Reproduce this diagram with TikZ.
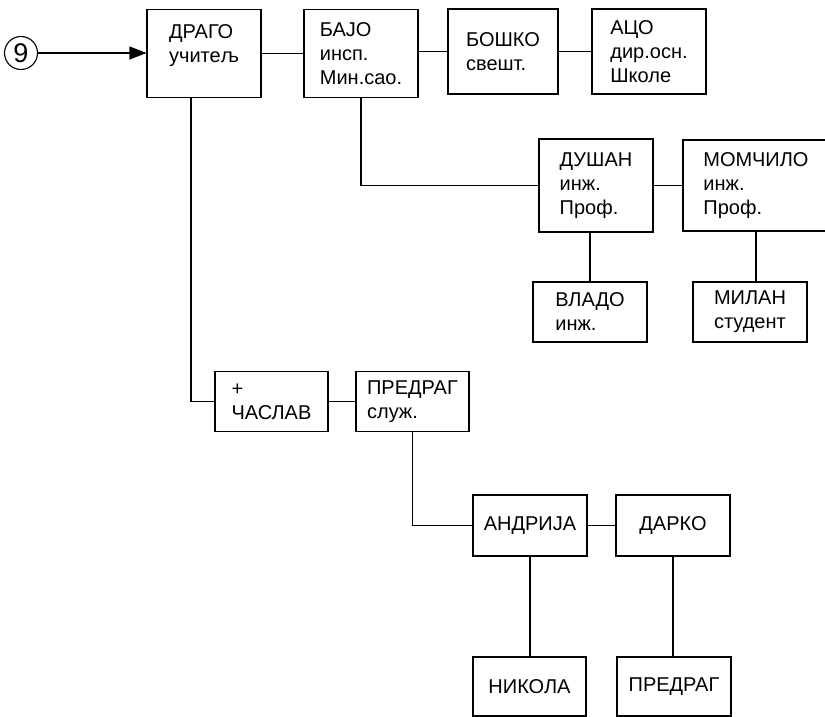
\documentclass[tikz,border=0pt]{standalone}
\usepackage{fontspec}
\setmainfont{Liberation Sans}
\usetikzlibrary{arrows.meta}
\begin{document}
\begin{tikzpicture}[x=1pt, y=-1pt, line width=1.1pt, >={Triangle[length=17pt,width=13pt]},
    box/.style={draw, rectangle, align=left, inner sep=0pt, font=\fontsize{20}{24}\selectfont}]
    \useasboundingbox (0,0) rectangle (825,717);
    \node[draw, circle, minimum size=33pt, inner sep=0pt, font=\fontsize{27}{27}\selectfont] (nine) at (21,53) {9};
    \node[box, minimum width=114pt, minimum height=88pt] (drago) at (204,53.5) {ДРАГО\\учитељ\\[-4pt]\mbox{}};
    \node[box, minimum width=114pt, minimum height=88pt] (bajo) at (361,53.5) {БАЈО\\инсп.\\Мин.сао.};
    \node[box, minimum width=110pt, minimum height=85pt] (boshko) at (503,51.5) {БОШКО\\свешт.};
    \node[box, minimum width=114pt, minimum height=85pt] (aco) at (649,51.5) {АЦО\\дир.осн.\\Школе};
    \node[box, minimum width=114pt, minimum height=93pt] (dusan) at (596,185.5) {ДУШАН\\инж.\\Проф.};
    \node[box, minimum width=146pt, minimum height=91pt] (momcilo) at (756,185.5) {МОМЧИЛО\\инж.\\Проф.};
    \node[box, minimum width=114pt, minimum height=60pt] (vlado) at (590,312) {ВЛАДО\\инж.};
    \node[box, minimum width=114pt, minimum height=60pt] (milan) at (750,312) {МИЛАН\\студент};
    \node[box, minimum width=113pt, minimum height=60pt] (caslav) at (271.5,401.5) {+\\ЧАСЛАВ};
    \node[box, minimum width=113pt, minimum height=60pt] (predrag) at (412.5,401.5) {ПРЕДРАГ\\служ.};
    \node[box, minimum width=114pt, minimum height=61pt] (andrija) at (530,525.5) {АНДРИЈА};
    \node[box, minimum width=114pt, minimum height=61pt] (darko) at (673,525.5) {ДАРКО};
    \node[box, minimum width=113pt, minimum height=59pt] (nikola) at (529.5,686.5) {НИКОЛА};
    \node[box, minimum width=114pt, minimum height=59pt] (predragb) at (674,686.5) {ПРЕДРАГ};

    \draw[->] (nine) -- (nine -| drago.west);
    \draw (drago) -- (bajo);
    \draw (bajo.east |- boshko.west) -- (boshko.west);
    \draw (boshko) -- (aco);
    \draw (bajo.south) |- (dusan.west);
    \draw (dusan) -- (momcilo);
    \draw (vlado.north) -- (vlado.north |- dusan.south);
    \draw (momcilo.south) -- (momcilo.south |- milan.north);
    \draw ([xshift=-13pt]drago.south) |- (caslav.west);
    \draw (caslav) -- (predrag);
    \draw (predrag.south) |- (andrija.west);
    \draw (andrija) -- (darko);
    \draw (andrija.south) -- (andrija.south |- nikola.north);
    \draw (darko.south) -- (darko.south |- predragb.north);
\end{tikzpicture}
\end{document}
